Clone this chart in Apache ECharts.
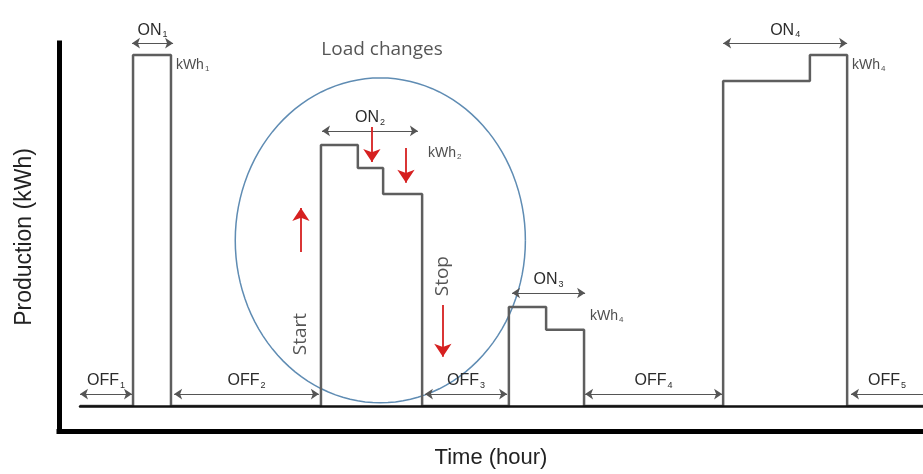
<!DOCTYPE html>
<html>
<head>
<meta charset="utf-8">
<script src="https://cdn.jsdelivr.net/npm/echarts@6/dist/echarts.min.js"></script>
<style>
  html, body { margin: 0; padding: 0; background: #fff; }
  #chart { width: 923px; height: 474px; }
</style>
</head>
<body>
<div id="chart"></div>
<script>
// production profile (hours, kWh) - step held from each x until the next
var stepX = [0, 1.51, 2.59, 6.86, 7.91, 8.63, 9.74, 12.21, 13.27, 14.35, 18.31, 20.78, 21.84, 24];
var stepY = [0, 10, 0, 7.44, 6.78, 6.04, 0, 2.82, 2.17, 0, 9.26, 10, 0, 0];

// ON / OFF durations: name, start, end, level
var spanNames = ["ON1", "ON2", "ON3", "ON4", "OFF1", "OFF2", "OFF3", "OFF4", "OFF5"];
var spanStart = [1.48, 6.89, 12.30, 18.31, 0, 2.68, 9.82, 14.38, 21.95];
var spanEnd = [2.65, 9.62, 14.38, 21.84, 1.48, 6.80, 12.16, 18.28, 24];
var spanLevel = [10.34, 7.84, 3.22, 10.34, 0.34, 0.34, 0.34, 0.34, 0.34];

// energy labels
var kwhNames = ["kWh1", "kWh2", "kWh4", "kWh4"];
var kwhX = [2.73, 9.91, 14.52, 21.98];
var kwhY = [9.72, 7.21, 2.56, 9.72];

// red arrows for load changes: x, from, to
var loadX = [6.29, 8.31, 9.28, 10.33];
var loadFrom = [4.39, 7.95, 7.35, 2.88];
var loadTo = [5.64, 6.95, 6.36, 1.40];

// circle around the load changes: centre x, centre y, radius x, radius y
var ring = [8.55, 4.72, 4.13, 4.63];

var chart = echarts.init(document.getElementById("chart"));

function subLabel(name) {
  return "{m|" + name.slice(0, -1) + "}{s|" + name.slice(-1) + "}";
}

var richSmall = {
  m: { fontSize: 16, color: "#2b2b2b", fontFamily: "Liberation Sans" },
  s: { fontSize: 9, color: "#2b2b2b", fontFamily: "Liberation Sans", padding: [9, 0, 0, 1] }
};
var richKwh = {
  m: { fontSize: 14, color: "#222", fontFamily: "Liberation Sans" },
  s: { fontSize: 8, color: "#222", fontFamily: "Liberation Sans", padding: [8, 0, 0, 1] }
};

var spanLines = spanNames.map(function (n, i) {
  return [
    { name: n, coord: [spanStart[i], spanLevel[i]], symbol: "arrow" },
    { coord: [spanEnd[i], spanLevel[i]], symbol: n === "OFF5" ? "none" : "arrow" }
  ];
});

var loadLines = loadX.map(function (x, i) {
  return [{ coord: [x, loadFrom[i]] }, { coord: [x, loadTo[i]] }];
});

var textItems = [
  { name: "Load changes", value: [8.60, 10.15], rotate: 0 },
  { name: "Start", value: [6.29, 2.05], rotate: 90 },
  { name: "Stop", value: [10.33, 3.70], rotate: 90 }
];

var noAxis = {
  axisLine: { show: false },
  axisTick: { show: false },
  axisLabel: { show: false },
  splitLine: { show: false }
};

chart.setOption({
  animation: false,
  grid: [
    { left: 80, right: 0, top: 20, bottom: 68 },
    { left: 59, right: 0, top: 43, bottom: 43 }
  ],
  xAxis: [
    {
      type: "value", min: 0, max: 24, z: 5,
      axisLine: { show: true, lineStyle: { color: "#111", width: 2.5 } },
      axisTick: { show: false }, axisLabel: { show: false }, splitLine: { show: false }
    },
    {
      gridIndex: 1, type: "value", min: 0, max: 1,
      name: "Time (hour)", nameLocation: "middle", nameGap: 16,
      nameTextStyle: { fontSize: 22, color: "#222", fontFamily: "Liberation Sans" },
      axisLine: { show: true, lineStyle: { color: "#000", width: 5, cap: "square" } },
      axisTick: { show: false }, axisLabel: { show: false }, splitLine: { show: false }
    }
  ],
  yAxis: [
    Object.assign({ type: "value", min: 0, max: 11 }, noAxis),
    {
      gridIndex: 1, type: "value", min: 0, max: 1,
      name: "Production (kWh)", nameLocation: "middle", nameGap: 23,
      nameTextStyle: { fontSize: 23, color: "#222", fontFamily: "Liberation Sans" },
      axisLine: { show: true, lineStyle: { color: "#000", width: 5, cap: "square" } },
      axisTick: { show: false }, axisLabel: { show: false }, splitLine: { show: false }
    }
  ],
  series: [
    {
      name: "Production",
      type: "line",
      step: "end",
      showSymbol: false,
      silent: true,
      lineStyle: { color: "#5e5e5e", width: 2.5 },
      data: stepX.map(function (x, i) { return [x, stepY[i]]; }),
      z: 3
    },
    {
      // ON/OFF duration arrows
      type: "line",
      data: [],
      markLine: {
        silent: true,
        symbolSize: 8,
        lineStyle: { color: "#555", width: 1, type: "solid" },
        label: {
          show: true,
          position: "middle",
          distance: 4,
          formatter: function (p) { return subLabel(p.name); },
          rich: richSmall
        },
        data: spanLines
      }
    },
    {
      // load change arrows
      type: "line",
      data: [],
      markLine: {
        silent: true,
        symbol: ["none", "arrow"],
        symbolSize: 13,
        lineStyle: { color: "#d62020", width: 1.8, type: "solid" },
        label: { show: false },
        data: loadLines
      }
    },
    {
      type: "scatter",
      symbolSize: 0,
      silent: true,
      data: kwhNames.map(function (n, i) { return { name: n, value: [kwhX[i], kwhY[i]] }; }),
      label: {
        show: true,
        position: "right",
        distance: 0,
        formatter: function (p) { return subLabel(p.name); },
        rich: richKwh
      }
    },
    {
      type: "scatter",
      symbolSize: 0,
      silent: true,
      data: textItems.map(function (t) {
        return { name: t.name, value: t.value, label: { rotate: t.rotate } };
      }),
      label: {
        show: true,
        position: "inside",
        formatter: "{b}",
        fontSize: 19,
        color: "#2a2a2a",
        fontFamily: "Open Sans"
      }
    },
    {
      // circle round the load changes
      type: "custom",
      silent: true,
      data: [ring],
      renderItem: function (params, api) {
        var c = api.coord([api.value(0), api.value(1)]);
        var e = api.coord([api.value(0) + api.value(2), api.value(1) + api.value(3)]);
        var rx = e[0] - c[0];
        var ry = c[1] - e[1];
        var pts = [];
        for (var k = 0; k <= 120; k++) {
          var a = (k / 120) * Math.PI * 2;
          pts.push([c[0] + rx * Math.cos(a), c[1] + ry * Math.sin(a)]);
        }
        return {
          type: "polyline",
          shape: { points: pts },
          style: { stroke: "#5f8cb3", lineWidth: 1.5, fill: null }
        };
      }
    }
  ]
});
</script>
</body>
</html>
